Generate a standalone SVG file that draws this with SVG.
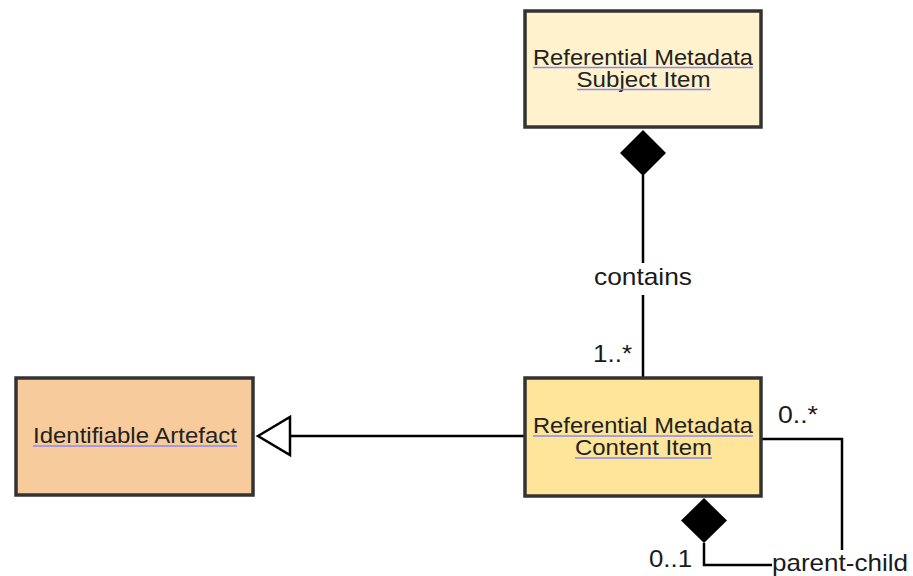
<svg xmlns="http://www.w3.org/2000/svg" width="913" height="576" viewBox="0 0 913 576">
<style>
.box{stroke:#333333;stroke-width:3.5}
.t{font-family:"Liberation Sans",Arial,sans-serif;font-size:22px;fill:#222222;text-anchor:middle}
.ul{stroke:#8a8af0;stroke-width:1.3}
.lbl{font-family:"Liberation Sans",Arial,sans-serif;font-size:24px;fill:#1a1a1a}
.ln{stroke:#000000;stroke-width:2.5;fill:none}
</style>
<rect width="913" height="576" fill="#ffffff"/>
<g id="connectors">
  <line class="ln" x1="643" y1="175" x2="643" y2="377"/>
  <rect x="592" y="263" width="102" height="32" fill="#ffffff"/>
  <text class="lbl" x="643" y="285" text-anchor="middle" textLength="98" lengthAdjust="spacingAndGlyphs">contains</text>
  <text class="lbl" x="593" y="362" textLength="39" lengthAdjust="spacingAndGlyphs">1..*</text>
  <polygon points="643,130 666,153 643,176 620,153" fill="#000000"/>
  <line class="ln" x1="290" y1="436" x2="524" y2="436"/>
  <polygon points="258,436 290,417 290,455" fill="#ffffff" stroke="#000000" stroke-width="2.5"/>
  <polyline class="ln" points="762,439 842,439 842,550"/>
  <polyline class="ln" points="704,543 704,565 772,565"/>
  <polygon points="704,498 727,520.5 704,543 681,520.5" fill="#000000"/>
  <text class="lbl" x="778" y="423" textLength="40" lengthAdjust="spacingAndGlyphs">0..*</text>
  <text class="lbl" x="649" y="567" textLength="43" lengthAdjust="spacingAndGlyphs">0..1</text>
  <text class="lbl" x="772" y="571" textLength="136" lengthAdjust="spacingAndGlyphs">parent-child</text>
</g>
<g id="subject-item">
  <rect class="box" x="525" y="11" width="236" height="116" fill="#fff2cc"/>
  <text class="t" x="643" y="65" textLength="220" lengthAdjust="spacingAndGlyphs">Referential Metadata</text>
  <text class="t" x="643.5" y="87" textLength="134" lengthAdjust="spacingAndGlyphs">Subject Item</text>
  <line class="ul" x1="533" y1="67.5" x2="753" y2="67.5"/>
  <line class="ul" x1="577" y1="89.5" x2="711" y2="89.5"/>
</g>
<g id="content-item">
  <rect class="box" x="525" y="378" width="236" height="118" fill="#ffe599"/>
  <text class="t" x="643" y="433" textLength="220" lengthAdjust="spacingAndGlyphs">Referential Metadata</text>
  <text class="t" x="643.5" y="455" textLength="137" lengthAdjust="spacingAndGlyphs">Content Item</text>
  <line class="ul" x1="533" y1="436" x2="753" y2="436"/>
  <line class="ul" x1="575" y1="458" x2="712" y2="458"/>
</g>
<g id="identifiable-artefact">
  <rect class="box" x="16" y="378" width="237" height="117" fill="#f8cb9c"/>
  <text class="t" x="135" y="443" textLength="204" lengthAdjust="spacingAndGlyphs">Identifiable Artefact</text>
  <line class="ul" x1="33" y1="446" x2="237" y2="446"/>
</g>
</svg>
